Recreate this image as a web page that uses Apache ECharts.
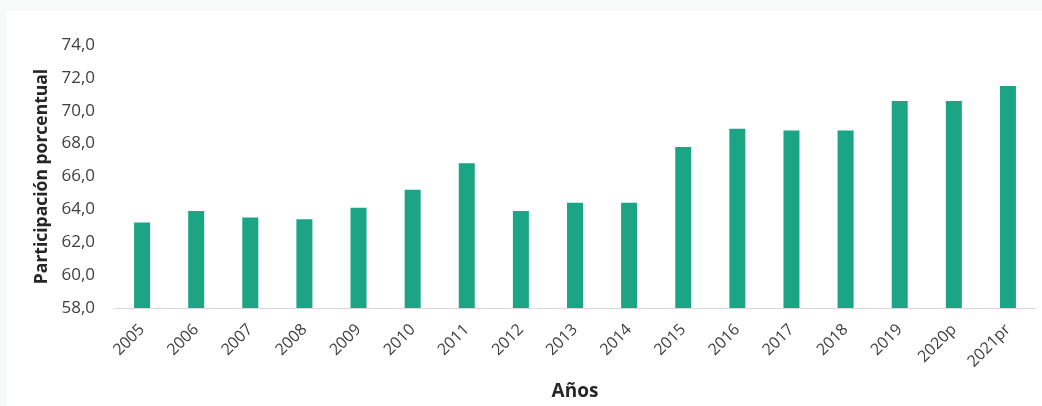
<!DOCTYPE html>
<html>
<head>
<meta charset="utf-8">
<script src="https://cdn.jsdelivr.net/npm/echarts@6/dist/echarts.min.js"></script>
<style>
html,body{margin:0;padding:0;background:#f8f9f9;width:1042px;height:406px;overflow:hidden;}
#chart{position:absolute;left:7px;top:11px;width:1035px;height:395px;background:#ffffff;}
</style>
</head>
<body>
<div id="chart"></div>
<script>
const categories = ['2005','2006','2007','2008','2009','2010','2011','2012','2013','2014','2015','2016','2017','2018','2019','2020p','2021pr'];
const values = [63.2, 63.9, 63.5, 63.4, 64.1, 65.2, 66.8, 63.9, 64.4, 64.4, 67.8, 68.9, 68.8, 68.8, 70.6, 70.6, 71.5];
const yMin = 58, yMax = 74, yStep = 2;
const xTitle = 'Años';
const yTitle = 'Participación porcentual';

const chart = echarts.init(document.getElementById('chart'), null, {renderer:'canvas'});
chart.setOption({
  backgroundColor: '#ffffff',
  animation: false,
  grid: {left:108, right:7, top:34, bottom:96, containLabel:false},
  xAxis: {
    type:'category',
    data: categories,
    axisLine:{show:true, lineStyle:{color:'#d9d9d9', width:1}},
    axisTick:{show:false},
    axisLabel:{rotate:45, interval:0, fontSize:16, color:'#404040', fontFamily:'Open Sans', margin:19},
    name: xTitle,
    nameLocation:'middle',
    nameGap:74,
    nameTextStyle:{fontSize:19, fontWeight:'bold', color:'#262626', fontFamily:'Open Sans'}
  },
  yAxis: {
    type:'value',
    min:yMin, max:yMax, interval:yStep,
    axisLine:{show:false},
    axisTick:{show:false},
    splitLine:{show:false},
    axisLabel:{fontSize:17, color:'#404040', fontFamily:'Open Sans', margin:20,
      formatter: v => v.toFixed(1).replace('.', ',')},
    name: yTitle,
    nameLocation:'middle',
    nameGap:64,
    nameRotate:90,
    nameTextStyle:{fontSize:17.5, fontWeight:'bold', color:'#262626', fontFamily:'Open Sans'}
  },
  series: [{
    type:'bar',
    data: values,
    barWidth:16,
    itemStyle:{color:'#1ba584'}
  }]
});
</script>
</body>
</html>
